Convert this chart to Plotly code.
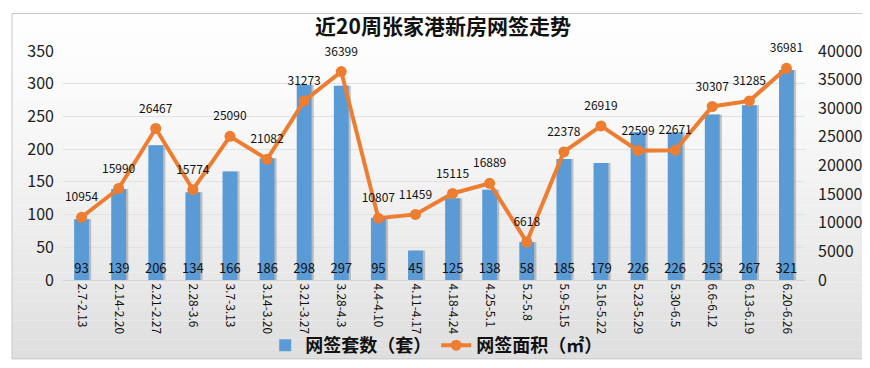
import plotly.graph_objects as go

categories = ["2.7-2.13", "2.14-2.20", "2.21-2.27", "2.28-3.6", "3.7-3.13", "3.14-3.20",
              "3.21-3.27", "3.28-4.3", "4.4-4.10", "4.11-4.17", "4.18-4.24", "4.25-5.1",
              "5.2-5.8", "5.9-5.15", "5.16-5.22", "5.23-5.29", "5.30-6.5", "6.6-6.12",
              "6.13-6.19", "6.20-6.26"]
counts = [93, 139, 206, 134, 166, 186, 298, 297, 95, 45, 125, 138, 58, 185, 179, 226, 226, 253, 267, 321]
areas = [10954, 15990, 26467, 15774, 25090, 21082, 31273, 36399, 10807, 11459, 15115, 16889,
         6618, 22378, 26919, 22599, 22671, 30307, 31285, 36981]

W, H = 870, 368
ML, MR, MT, MB = 55, 73, 43, 87
PW, PH = W - ML - MR, H - MT - MB

def px2paper_x(px):
    return (px - ML) / PW

def px2paper_y(py):
    return (H - MB - py) / PH

FONT = "Noto Sans CJK SC, DejaVu Sans, sans-serif"

fig = go.Figure()

# bar shadow
fig.add_trace(go.Bar(
    x=categories, y=counts, width=0.4, offset=-0.14,
    marker=dict(color="rgba(60,60,60,0.28)", line=dict(width=0)),
    showlegend=False, hoverinfo="skip", yaxis="y"))

fig.add_trace(go.Bar(
    x=categories, y=counts, width=0.4, offset=-0.2, name="网签套数（套）",
    marker=dict(color="#5B9BD5", line=dict(width=0)),
    text=counts, textposition="inside", insidetextanchor="start", textangle=0,
    constraintext="none",
    insidetextfont=dict(color="#111111", size=13, family=FONT), yaxis="y"))

fig.add_trace(go.Scatter(
    x=categories, y=areas, name="网签面积（㎡）", mode="lines+markers",
    line=dict(color="#ED7D31", width=4),
    marker=dict(color="#ED7D31", size=11),
    yaxis="y2"))

# data labels for the line (invisible larger markers give the offset)
fig.add_trace(go.Scatter(
    x=categories, y=areas, mode="markers+text", showlegend=False, hoverinfo="skip",
    marker=dict(size=19, color="rgba(0,0,0,0)"),
    text=areas, textposition="top center", cliponaxis=False,
    textfont=dict(color="#111111", size=12, family=FONT), yaxis="y2"))

# gradient background bands and frame
shapes = []
top, bot, left, right = 4, 363, 4, 866
n = 36
for i in range(n):
    y0 = top + (bot - top) * i / n
    y1 = top + (bot - top) * (i + 1) / n
    t = (i + 0.5) / n
    g = int(round(254 - 32 * t ** 1.4))
    shapes.append(dict(type="rect", xref="paper", yref="paper", layer="below",
                       x0=px2paper_x(left), x1=px2paper_x(right),
                       y0=px2paper_y(y1), y1=px2paper_y(y0),
                       fillcolor=f"rgb({g},{g},{g})", line=dict(width=0)))
shapes.append(dict(type="rect", xref="paper", yref="paper", layer="below",
                   x0=px2paper_x(left), x1=px2paper_x(right),
                   y0=px2paper_y(bot), y1=px2paper_y(top),
                   fillcolor="rgba(0,0,0,0)", line=dict(width=1, color="#c8c8c8")))

fig.update_layout(
    width=W, height=H,
    margin=dict(l=ML, r=MR, t=MT, b=MB),
    paper_bgcolor="white", plot_bgcolor="rgba(0,0,0,0)",
    shapes=shapes,
    barmode="overlay",
    font=dict(family=FONT, color="#111111"),
    title=dict(text="<b>近20周张家港新房网签走势</b>", x=0.5, xanchor="center",
               y=1 - 19 / H, yanchor="middle",
               font=dict(size=21, color="#111111", family=FONT)),
    xaxis=dict(type="category", tickangle=90, tickfont=dict(size=12, color="#111111"),
               showgrid=False, showline=True, linecolor="#d4d4d4", ticks="",
               range=[-0.5, len(categories) - 0.5]),
    yaxis=dict(range=[0, 350], dtick=50, showgrid=True, gridcolor="#e2e2e2",
               zeroline=False, showline=False, ticks="",
               tickfont=dict(size=16, color="#222222"), ticklabelstandoff=8),
    yaxis2=dict(range=[0, 40000], dtick=5000, tickformat="d", overlaying="y", side="right",
                showgrid=False, zeroline=False, showline=False, ticks="",
                tickfont=dict(size=16, color="#222222"), ticklabelstandoff=12),
    legend=dict(orientation="h", x=0.503, xanchor="center", y=px2paper_y(349),
                yanchor="middle", bgcolor="rgba(0,0,0,0)",
                font=dict(size=18, color="#111111", family=FONT, weight="bold"),
                itemwidth=30),
    showlegend=True,
)

fig.write_html("out.html")
